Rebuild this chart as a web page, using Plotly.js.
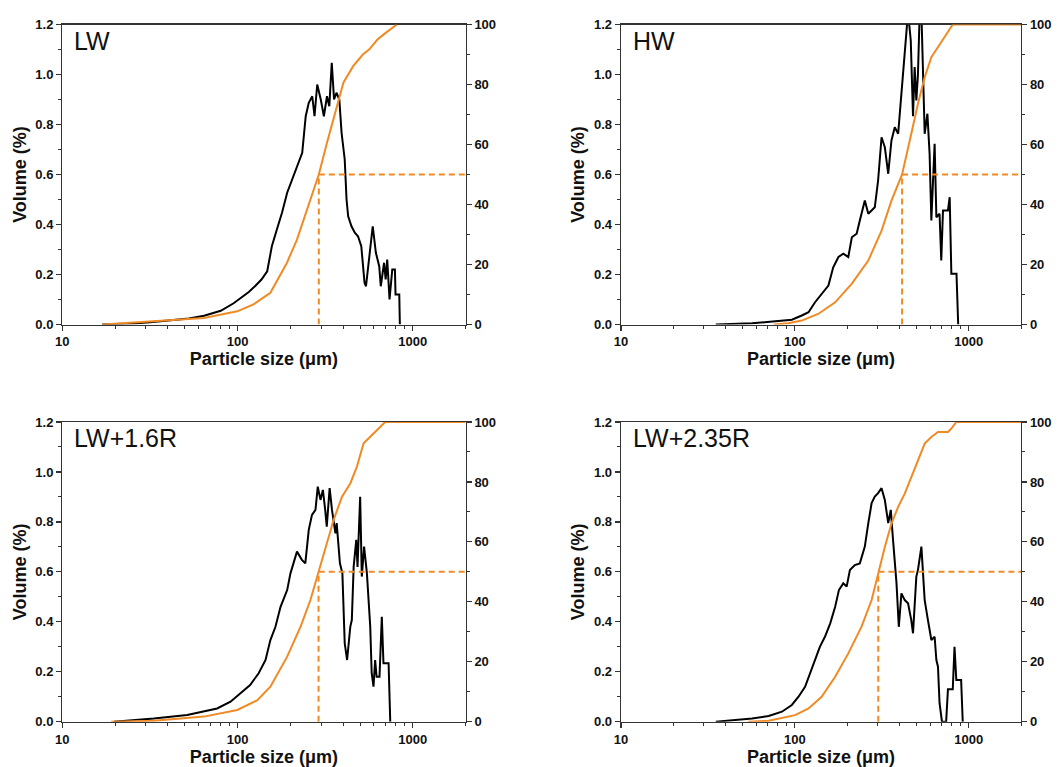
<!DOCTYPE html>
<html>
<head>
<meta charset="utf-8">
<script src="https://cdn.plot.ly/plotly-3.0.1.min.js"></script>
<style>html,body{margin:0;padding:0;background:#fff;}#chart{width:1063px;height:767px;}</style>
</head>
<body>
<div id="chart"></div>
<script>
// ---------- data ----------
const panelLabels = ["LW", "HW", "LW+1.6R", "LW+2.35R"];
const d50 = [291, 414, 290, 302];
const d50Level = 50;
const xMax = 2000;

// LW
const lwSize = [16.9,21.1,26.4,31.7,42.2,52.8,64.4,80.2,95,105.5,116,126.6,137,147.7,157,167.7,179.4,192,204.7,218.4,234,245,255,267,275,285,298.6,311,324,334,345,355.5,367,381,392.5,409,419,428,447,467,487,508.5,530.7,541,565.5,591,616,643.6,657,686,700.5,715,737,764,791,797.6,837.7,844];
const lwVol  = [0,0.002,0.005,0.009,0.016,0.024,0.035,0.055,0.085,0.11,0.13,0.155,0.18,0.213,0.313,0.38,0.447,0.527,0.58,0.633,0.687,0.833,0.887,0.913,0.833,0.96,0.9,0.833,0.913,0.873,1.047,0.9,0.927,0.9,0.767,0.66,0.5,0.433,0.393,0.367,0.353,0.313,0.167,0.153,0.287,0.393,0.287,0.233,0.153,0.247,0.18,0.26,0.1,0.22,0.22,0.12,0.12,0];
const lwCumSize = [16.9,33.3,64.4,99.7,123.4,154,191.5,218.4,249,285,291,324,367,402,457,519,565.5,629,700.5,812];
const lwCum     = [0,1,2.2,4.4,6.7,10.6,20.6,28.3,38.3,48.3,50,60.6,71.7,80.6,86.1,90,91.7,95,97.2,100];

// HW
const hwSize = [35.1,56.8,77.3,96.1,109.7,119.9,130.7,142.6,156,166.3,178.2,190,203,212.8,226.8,236.5,252.7,264.6,276.5,288.4,301.3,315.4,329.4,344.5,359.6,375.8,393,401.8,419,438.5,448,464.4,478.4,489,500,510.8,522.7,534.6,546.5,558.4,578.9,596,610,623,637,652,680,695.5,711.7,760,777.6,795,851,870.5];
const hwVol  = [0,0.005,0.013,0.019,0.036,0.049,0.089,0.123,0.156,0.229,0.27,0.283,0.27,0.349,0.363,0.416,0.496,0.443,0.456,0.469,0.576,0.749,0.709,0.603,0.736,0.789,0.763,0.843,1.003,1.163,1.25,1.136,0.833,1.03,0.896,1.0,1.25,1.25,0.966,0.763,0.843,0.683,0.416,0.576,0.723,0.429,0.443,0.256,0.456,0.456,0.509,0.203,0.203,0];
const hwCumSize = [75.6,91.8,109.7,137,170.6,212.8,264.6,315.4,359.6,414,467.6,510.8,558.4,610,665,725.8,795,810,2000];
const hwCum     = [0,0.4,1.3,3.6,7.4,13.6,21.3,31.3,41.3,50,63.6,73.6,82.4,89.1,92.4,95.8,99.7,100,100];

// LW+1.6R
const r16Size = [19.7,26.4,33.3,51.6,76.5,91.2,104,118,132,144.5,154,164.6,176,192,200.5,218.4,233,243.7,255,266,278.5,287,297.5,307,316.5,323,335.5,346,362,368,384,396.7,409,422,440,449,460,476,484,501,512,527.5,547.5,572,583,597,610,622,646,666,680.5,728,744];
const r16Vol  = [0,0.006,0.013,0.027,0.053,0.08,0.114,0.147,0.194,0.247,0.327,0.38,0.46,0.527,0.594,0.681,0.648,0.634,0.768,0.828,0.848,0.941,0.888,0.928,0.848,0.781,0.935,0.848,0.754,0.795,0.634,0.594,0.314,0.247,0.38,0.407,0.621,0.728,0.62,0.901,0.581,0.701,0.594,0.38,0.194,0.14,0.247,0.18,0.18,0.42,0.234,0.234,0];
const r16CumSize = [19,33.3,64.4,99.7,129.8,154,192,229,260.6,285,290,316.5,353.4,394.6,440,480,524,572,622,696,2000];
const r16Cum     = [0,0.3,1.7,3.9,7.2,11.7,21.7,31.7,40.6,48.4,50,58.4,67.3,75.1,79.5,85.1,92.9,95.1,97.3,100,100];

// LW+2.35R
const r235Size = [35.1,56.8,70.7,84.3,96.1,105,114.5,122.6,130.7,139.3,149,159.8,170.6,179.3,190,198.7,207.4,221.4,236.5,252.7,264.6,276.5,288.4,301.3,315.4,329.4,344.5,356.4,367.2,384.5,396.4,410.4,428.8,448,467.6,478.4,500,510.8,534.6,558.4,583,610,637,652,666,680,702,742,760,810,829,849,905,924.5];
const r235Vol  = [0,0.013,0.023,0.04,0.067,0.1,0.14,0.194,0.247,0.3,0.34,0.394,0.46,0.527,0.554,0.541,0.607,0.627,0.634,0.701,0.795,0.875,0.901,0.915,0.935,0.888,0.795,0.848,0.728,0.554,0.38,0.514,0.487,0.474,0.407,0.354,0.581,0.607,0.701,0.487,0.407,0.327,0.34,0.247,0.22,0.074,0,0,0.13,0.13,0.3,0.167,0.167,0];
const r235CumSize = [54,70.7,100.4,119.9,142.6,170.6,203,242,276.5,302.4,329.4,359.6,393,428.8,467.6,510.8,558.4,610,666,760,795,849,2000];
const r235Cum     = [0,0.3,2.2,4.4,8.3,15,22.8,31.7,40.6,50,58.3,66.1,71.7,76.1,81.7,87.2,92.8,95,96.7,96.7,97.8,100,100];

const volTicks = [0, 0.2, 0.4, 0.6, 0.8, 1.0, 1.2];
const cumTicks = [0, 20, 40, 60, 80, 100];
const sizeTicks = [10, 100, 1000];
const sizeMinorTicks = [20,30,40,50,60,70,80,90,200,300,400,500,600,700,800,900,2000];

// ---------- chart ----------
const panels = [
  {size: lwSize, vol: lwVol, cs: lwCumSize, c: lwCum},
  {size: hwSize, vol: hwVol, cs: hwCumSize, c: hwCum},
  {size: r16Size, vol: r16Vol, cs: r16CumSize, c: r16Cum},
  {size: r235Size, vol: r235Vol, cs: r235CumSize, c: r235Cum}
];

const ORANGE = '#F08A24';
const AXC = '#333333';
const FONT = 'Liberation Sans, Arial, sans-serif';

const W = 1063, H = 767;
const xDom = [[62.3/W, 465.5/W], [621/W, 1021/W]];
const yDom = [[1-324.5/H, 1-24.5/H], [1-721.7/H, 1-422/H]];

const traces = [];
const layout = {
  width: W, height: H,
  margin: {l:0, r:0, t:0, b:0},
  paper_bgcolor: '#fff', plot_bgcolor: '#fff',
  showlegend: false,
  annotations: []
};

const tickFont = {family: FONT, size: 13, color: '#111', weight: 'bold'};
const titleFont = {family: FONT, size: 18, color: '#111', weight: 'bold'};

panels.forEach((p, i) => {
  const xn = i === 0 ? 'x' : 'x' + (i+1);
  const yl = 'y' + (i === 0 ? '' : (2*i+1));
  const yr = 'y' + (2*i+2);
  const col = i % 2, row = Math.floor(i/2);

  traces.push({x: p.size, y: p.vol, xaxis: xn, yaxis: yl, type: 'scatter', mode: 'lines',
    line: {color: '#000', width: 2}, hoverinfo: 'skip'});
  traces.push({x: p.cs, y: p.c, xaxis: xn, yaxis: yr, type: 'scatter', mode: 'lines',
    line: {color: ORANGE, width: 2}, hoverinfo: 'skip'});
  traces.push({x: [d50[i], d50[i], xMax], y: [0, d50Level, d50Level], xaxis: xn, yaxis: yr,
    type: 'scatter', mode: 'lines', line: {color: ORANGE, width: 2, dash: '6px,4px'}, hoverinfo: 'skip'});

  const xKey = i === 0 ? 'xaxis' : 'xaxis' + (i+1);
  const ylKey = i === 0 ? 'yaxis' : 'yaxis' + (2*i+1);
  const yrKey = 'yaxis' + (2*i+2);

  layout[xKey] = {
    type: 'log', range: [1, Math.log10(xMax)], domain: xDom[col], anchor: yl,
    tickvals: sizeTicks, ticktext: sizeTicks.map(String),
    ticks: 'outside', ticklen: 5, tickwidth: 1.2, tickcolor: AXC,
    minor: {tickvals: sizeMinorTicks, ticks: 'outside', ticklen: 3, tickwidth: 1, tickcolor: AXC, showgrid: false},
    showline: true, linecolor: AXC, linewidth: 1.3, mirror: true,
    showgrid: false, zeroline: false, tickfont: tickFont,
    title: {text: 'Particle size (μm)', font: titleFont, standoff: 2},
    automargin: false, layer: 'below traces'
  };
  layout[ylKey] = {
    range: [0, 1.2], domain: yDom[row], anchor: xn,
    tickvals: volTicks, ticktext: volTicks.map(v => v.toFixed(1)),
    ticks: 'outside', ticklen: 5, tickwidth: 1.2, tickcolor: AXC,
    minor: {dtick: 0.1, ticks: 'outside', ticklen: 3, tickwidth: 1, tickcolor: AXC, showgrid: false},
    showline: true, linecolor: AXC, linewidth: 1.3,
    showgrid: false, zeroline: false, tickfont: tickFont,
    title: {text: 'Volume (%)', font: titleFont, standoff: 4},
    automargin: false, layer: 'below traces'
  };
  layout[yrKey] = {
    range: [0, 100], overlaying: yl, side: 'right', anchor: xn,
    tickvals: cumTicks, ticktext: cumTicks.map(String),
    ticks: 'outside', ticklen: 5, tickwidth: 1.2, tickcolor: AXC,
    minor: {dtick: 10, ticks: 'outside', ticklen: 3, tickwidth: 1, tickcolor: AXC, showgrid: false},
    showline: true, linecolor: AXC, linewidth: 1.3,
    showgrid: false, zeroline: false, tickfont: tickFont,
    automargin: false, layer: 'below traces'
  };

  layout.annotations.push({
    text: panelLabels[i], xref: xn + ' domain', yref: yl + ' domain',
    x: 0.025, y: 0.945, xanchor: 'left', yanchor: 'middle', showarrow: false,
    font: {family: FONT, size: 25, color: '#111'}
  });
});

Plotly.newPlot('chart', traces, layout, {staticPlot: true, displayModeBar: false});
</script>
</body>
</html>
